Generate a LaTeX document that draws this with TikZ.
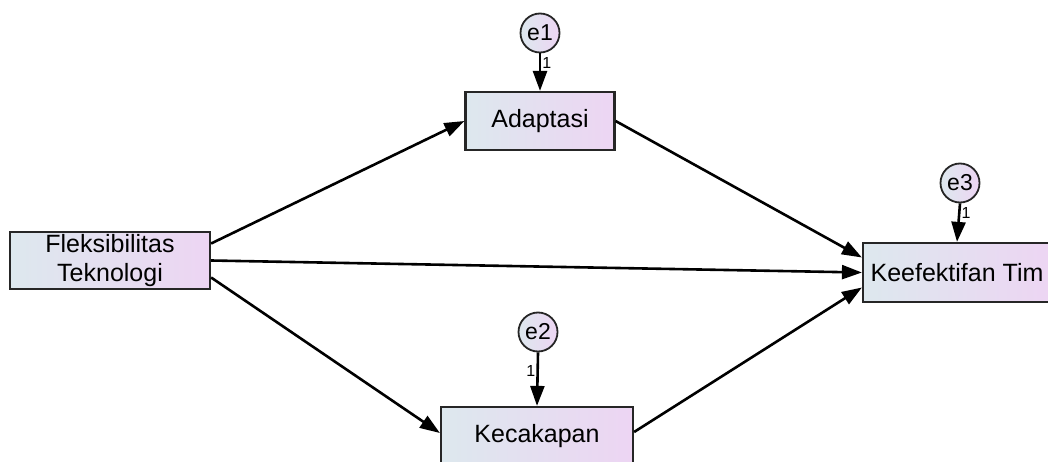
\documentclass[tikz,border=0pt]{standalone}
\usepackage{fontspec}
\setmainfont{Liberation Sans}
\usetikzlibrary{arrows.meta}
\definecolor{lgL}{RGB}{221,232,238}
\definecolor{lgR}{RGB}{237,213,243}
\tikzset{
  obs/.style={draw=black!85, line width=2.2pt, left color=lgL, right color=lgR,
    inner sep=0pt, font=\fontsize{25}{29}\selectfont, align=center},
  err/.style={circle, draw=black!85, line width=1.8pt, left color=lgL, right color=lgR,
    minimum size=39pt, inner sep=0pt, font=\fontsize{23}{24}\selectfont},
  path/.style={line width=2.6pt, -{Triangle[length=20pt,width=14pt]}},
  one/.style={font=\fontsize{16}{16}\selectfont, inner sep=1pt}
}
\begin{document}
\begin{tikzpicture}[x=1pt,y=-1pt]
\useasboundingbox (0,0) rectangle (1048,462);
\clip (0,0) rectangle (1048,462);
\node[obs, minimum width=200pt, minimum height=57pt] (flex) at (110,260.5) {Fleksibilitas\\Teknologi};
\node[obs, minimum width=149pt, minimum height=58pt] (adapt) at (540,121) {Adaptasi};
\node[obs, minimum width=188pt, minimum height=59pt] (keef) at (957,272.5) {Keefektifan Tim};
\node[obs, minimum width=192pt, minimum height=58pt] (kec) at (537,436) {Kecakapan};
\node[err] (e1) at (540,33) {e1};
\node[err] (e2) at (538,332) {e2};
\node[err] (e3) at (960,183) {e3};
\draw[path] ([yshift=17pt]flex.east) -- (adapt.west);
\draw[path] (flex.east) -- (keef.west);
\draw[path] ([yshift=-17pt]flex.east) -- ([yshift=3pt]kec.west);
\draw[path] (adapt.east) -- ([yshift=15pt]keef.west);
\draw[path] ([yshift=4pt]kec.east) -- ([yshift=-15pt]keef.west);
\draw[path] (e1.south) -- node[one, pos=0.25, right] (l1) {1} (adapt.north);
\draw[path] (e2.south) -- node[one, pos=0.35, left] (l2) {1} (kec.north);
\draw[path] (e3.south) -- node[one, pos=0.25, right] (l3) {1} (keef.north);
\end{tikzpicture}
\end{document}
